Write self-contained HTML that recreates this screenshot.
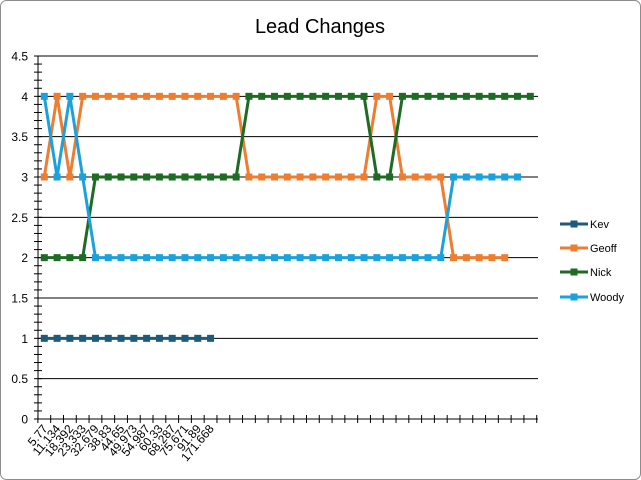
<!DOCTYPE html>
<html><head><meta charset="utf-8"><style>
html,body{margin:0;padding:0;background:#fff;}
svg{display:block;font-family:"Liberation Sans",sans-serif;}
</style></head><body>
<svg id="s" width="641" height="480" xmlns="http://www.w3.org/2000/svg">
<rect x="0.5" y="0.5" width="640" height="479" rx="6" fill="#fff" stroke="#8c8c8c"/>
<text x="320" y="33" font-size="20" text-anchor="middle" fill="#000">Lead Changes</text>
<g id="g"></g>
</svg>
<script>
var g=document.getElementById('g'),h='';
var SP=12.79,X0=37.9;
function Y(v){return 419-80.667*v;}
function X(i){return X0+SP/2+SP*i;}
for(var k=0;k<=9;k++){var y=Y(k*0.5);h+='<line x1="38" x2="538" y1="'+y+'" y2="'+y+'" stroke="#000" stroke-width="1"/>';
h+='<text x="28" y="'+(y+4.5)+'" font-size="12" text-anchor="end">'+(k*0.5)+'</text>';}
h+='<line x1="38" x2="38" y1="56" y2="419" stroke="#000"/>';
for(var k=0;k<=45;k++){var y=Y(k*0.1);h+='<line x1="34" x2="42" y1="'+y+'" y2="'+y+'" stroke="#000"/>';}
for(var i=0;i<=39;i++){var x=X0+SP*i;h+='<line x1="'+x+'" x2="'+x+'" y1="415" y2="423" stroke="#000"/>';}
var labs=["5.77","11.134","18.392","23.333","32.679","38.83","44.65","49.973","54.987","60.33","68.287","75.671","91.89","171.668"];
labs.forEach(function(t,i){var x=X(i)+4,y=429;h+='<text font-size="12" text-anchor="end" transform="translate('+x+','+y+') rotate(-50)">'+t+'</text>';});
function rep(v,n){var a=[];for(var i=0;i<n;i++)a.push(v);return a;}
var S=[
["#1d5a7c",rep(1,14)],
["#ed7d31",[3,4,3,4].concat(rep(4,12),rep(3,10),[4,4],rep(3,4),rep(2,5))],
["#1e6b24",rep(2,4).concat(rep(3,12),rep(4,10),[3,3],rep(4,11))],
["#1ba1db",[4,3,4,3].concat(rep(2,28),rep(3,6))]
];
S.forEach(function(s){var p=s[1].map(function(v,i){return X(i)+','+Y(v);}).join(' ');
h+='<polyline points="'+p+'" fill="none" stroke="'+s[0]+'" stroke-width="3" stroke-linejoin="round"/>';
s[1].forEach(function(v,i){h+='<rect x="'+(X(i)-3.5)+'" y="'+(Y(v)-3.5)+'" width="7" height="7" fill="'+s[0]+'"/>';});});
var names=["Kev","Geoff","Nick","Woody"],ly=[224,248,272,297];
S.forEach(function(s,i){var y=ly[i];h+='<line x1="560" x2="588" y1="'+y+'" y2="'+y+'" stroke="'+s[0]+'" stroke-width="3"/>';
h+='<rect x="570.5" y="'+(y-3.5)+'" width="7" height="7" fill="'+s[0]+'"/>';
h+='<text x="590" y="'+(y+4)+'" font-size="11">'+names[i]+'</text>';});
g.innerHTML=h;
</script>
</body></html>
